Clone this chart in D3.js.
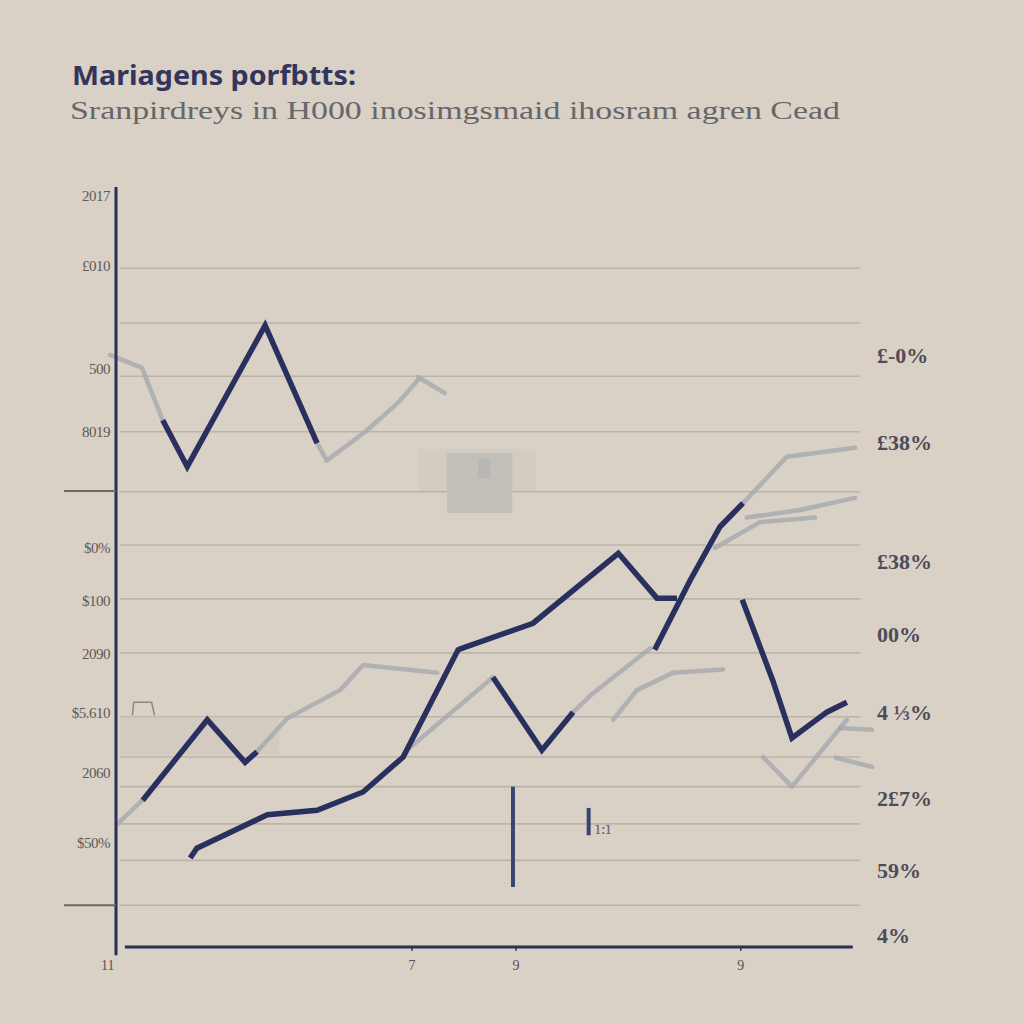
<!DOCTYPE html>
<html><head><meta charset="utf-8">
<script src="https://cdn.jsdelivr.net/npm/d3@7/dist/d3.min.js"></script>
<style>html,body{margin:0;padding:0;background:#d9d0c6;}svg{display:block;}</style>
</head><body>
<script>
// ---- data ----
const titleText = "Mariagens porfbtts:";
const subtitleText = "Sranpirdreys in H000 inosimgsmaid ihosram agren Cead";
const gridValues = [89.3, 82.1, 75.1, 67.8, 59.9, 52.9, 45.8, 38.7, 30.3, 25.0, 21.1, 16.2, 11.4, 5.5];
const yLabels = ["2017", "£010", "500", "8019", "$0%", "$100", "2090", "$5.610", "2060", "$50%"];
const yLabelValues = [98.8, 89.6, 76.1, 67.8, 52.5, 45.5, 38.6, 30.8, 22.9, 13.7];
const yDashValues = [60.0, 5.5];
const xLabels = ["11", "7", "9", "9"];
const xLabelValues = [-1.1, 39.9, 53.9, 84.2];
const rightLabels = ["£-0%", "£38%", "£38%", "00%", "4 ⅓%", "2£7%", "59%", "4%"];
const rightLabelValues = [77.9, 66.4, 50.7, 41.1, 30.9, 19.6, 10.1, 1.6];

// dark series segments [x, y]
const darkA = [[6.3,69.3],[9.6,63.2],[20.1,81.8],[27.1,66.3]];
const darkB = [[10.0,11.7],[10.9,13.0],[20.4,17.4],[27.1,18.0],[33.3,20.4],[38.7,25.0],[46.1,39.1],[46.6,39.3],[56.2,42.6],[67.7,51.8],[72.9,45.9],[75.6,45.9]];
const darkC = [[3.6,19.3],[12.3,29.9],[17.4,24.3],[19.0,25.7]];
const darkD1 = [[50.8,35.5],[57.4,25.9],[61.6,30.9]];
const darkD2 = [[72.6,39.1],[77.4,48.3],[81.4,55.3],[84.5,58.4]];
const darkE = [[84.4,45.7],[88.5,35.1],[91.1,27.5],[95.8,30.9],[98.5,32.2]];
// faded gray series segments
const grayA1 = [[-0.8,77.9],[3.5,76.2],[6.3,69.3]];
const grayA2 = [[27.1,66.3],[28.4,64.0],[33.6,67.8],[38.0,71.6],[40.7,74.6]];
const grayA3 = [[40.7,75.0],[44.3,72.9]];
const grayC1 = [[0.1,16.1],[3.2,19.0],[3.6,19.3]];
const grayC2 = [[19.0,25.7],[23.1,30.1],[30.2,33.8],[33.3,37.1],[43.3,36.1]];
const grayD1 = [[39.2,25.9],[50.8,35.5]];
const grayD2 = [[61.6,30.9],[64.3,33.4],[72.0,39.3]];
const grayD3 = [[84.5,58.4],[90.4,64.5],[99.6,65.7]];
const grayG1 = [[85.0,56.5],[92.2,57.5],[99.6,59.1]];
const grayG2 = [[80.7,52.5],[86.8,55.9],[94.2,56.5]];
const grayF = [[67.0,29.9],[70.2,33.8],[75.1,36.1],[81.8,36.5]];
const grayE1 = [[87.2,25.0],[91.1,21.1],[98.5,29.9]];
const grayE2 = [[97.6,28.8],[101.9,28.6]];
const grayE3 = [[97.0,24.9],[101.9,23.7]];
const vBars = [[53.5,21.1,7.9],[63.7,18.3,14.7]];

// ---- drawing ----
const W = 1024, H = 1024;
const svg = d3.select("body").append("svg").attr("width", W).attr("height", H);
svg.append("rect").attr("width", W).attr("height", H).attr("fill", "#d9d0c6");

const x = d3.scaleLinear().domain([0, 100]).range([116, 858]);
const y = d3.scaleLinear().domain([0, 100]).range([947, 187]);

// title
svg.append("text").attr("x", 72).attr("y", 85).text(titleText)
  .attr("font-family", "'Noto Sans', 'Open Sans', sans-serif").attr("font-weight", 700)
  .attr("font-size", 27).attr("fill", "#33365a")
  .attr("textLength", 284).attr("lengthAdjust", "spacingAndGlyphs");
svg.append("text").attr("x", 70).attr("y", 119).text(subtitleText)
  .attr("font-family", "'Liberation Serif', 'DejaVu Serif', serif")
  .attr("font-size", 25).attr("fill", "#67666a")
  .attr("textLength", 770).attr("lengthAdjust", "spacingAndGlyphs");

// gridlines
svg.append("g").selectAll("line").data(gridValues).join("line")
  .attr("x1", x(0.5)).attr("x2", x(100.3))
  .attr("y1", d => y(d)).attr("y2", d => y(d))
  .attr("stroke", "#bcb4aa").attr("stroke-width", 1.6);

// faint decorative boxes
svg.append("rect").attr("x", x(40.8)).attr("y", y(65.5)).attr("width", x(56.6) - x(40.8)).attr("height", y(60.0) - y(65.5))
  .attr("fill", "#cfcac2").attr("opacity", 0.7);
svg.append("rect").attr("x", x(44.6)).attr("y", y(65.0)).attr("width", x(53.4) - x(44.6)).attr("height", y(57.1) - y(65.0))
  .attr("fill", "#c3c0b9");
svg.append("rect").attr("x", x(48.8)).attr("y", y(64.3)).attr("width", x(50.4) - x(48.8)).attr("height", y(61.7) - y(64.3))
  .attr("fill", "#b9b7b3");
svg.append("rect").attr("x", x(0.5)).attr("y", y(30.3)).attr("width", x(22) - x(0.5)).attr("height", y(25.3) - y(30.3))
  .attr("fill", "#cfc8bf").attr("opacity", 0.6);
svg.append("path")
  .attr("d", `M${x(2.2)},${y(30.5)} L${x(2.4)},${y(32.2)} L${x(4.8)},${y(32.2)} L${x(5.2)},${y(30.5)}`)
  .attr("fill", "none").attr("stroke", "#8a8784").attr("stroke-width", 1.5);

const line = d3.line().x(d => x(d[0])).y(d => y(d[1]));
const grays = [grayA1, grayA2, grayA3, grayC1, grayC2, grayD1, grayD2, grayD3, grayG1, grayG2, grayF, grayE1, grayE2, grayE3];
svg.append("g").selectAll("path").data(grays).join("path")
  .attr("d", line).attr("fill", "none").attr("stroke", "#a4a9ac")
  .attr("stroke-width", 4.5).attr("stroke-linejoin", "round").attr("stroke-linecap", "round").attr("opacity", 0.8);

const darks = [darkA, darkB, darkC, darkD1, darkD2, darkE];
svg.append("g").selectAll("path").data(darks).join("path")
  .attr("d", line).attr("fill", "none").attr("stroke", "#29305e")
  .attr("stroke-width", 5.5).attr("stroke-linejoin", "miter").attr("stroke-linecap", "butt");

// vertical bars
svg.append("g").selectAll("line").data(vBars).join("line")
  .attr("x1", d => x(d[0])).attr("x2", d => x(d[0]))
  .attr("y1", d => y(d[1])).attr("y2", d => y(d[2]))
  .attr("stroke", "#3a4670").attr("stroke-width", 4);
svg.append("text").attr("x", x(64.6)).attr("y", y(14.9)).text("ı:ı")
  .attr("font-family", "'DejaVu Serif', serif").attr("font-size", 16).attr("fill", "#6a6a80");

// axes
svg.append("line").attr("x1", x(0)).attr("x2", x(0)).attr("y1", y(100)).attr("y2", y(-1.1))
  .attr("stroke", "#2b2f55").attr("stroke-width", 3);
svg.append("line").attr("x1", x(1.2)).attr("x2", x(99.3)).attr("y1", y(0)).attr("y2", y(0))
  .attr("stroke", "#2b2f55").attr("stroke-width", 3);
svg.append("g").selectAll("line").data(xLabelValues.slice(1)).join("line")
  .attr("x1", d => x(d)).attr("x2", d => x(d)).attr("y1", y(0)).attr("y2", y(-0.5))
  .attr("stroke", "#2b2f55").attr("stroke-width", 1.5);
svg.append("g").selectAll("text").data(xLabels).join("text")
  .attr("x", (d, i) => x(xLabelValues[i])).attr("y", y(-3.0)).attr("text-anchor", "middle")
  .text(d => d).attr("font-family", "'Liberation Serif', serif").attr("font-size", 14).attr("fill", "#555458");

// y labels
svg.append("g").selectAll("text").data(yLabels).join("text")
  .attr("x", 110).attr("y", (d, i) => y(yLabelValues[i])).attr("dy", "0.35em").attr("text-anchor", "end")
  .text(d => d).attr("font-family", "'Liberation Serif', serif").attr("font-size", 15).attr("fill", "#5e5a57")
  .attr("letter-spacing", -0.5);
svg.append("g").selectAll("line").data(yDashValues).join("line")
  .attr("x1", 64).attr("x2", x(0)).attr("y1", d => y(d)).attr("y2", d => y(d))
  .attr("stroke", "#6a6764").attr("stroke-width", 2);

// right labels
svg.append("g").selectAll("text").data(rightLabels).join("text")
  .attr("x", 877).attr("y", (d, i) => y(rightLabelValues[i])).attr("dy", "0.35em")
  .text(d => d).attr("font-family", "'Liberation Serif', serif").attr("font-weight", 700)
  .attr("font-size", 22).attr("fill", "#4d4c58");
</script>
</body></html>
